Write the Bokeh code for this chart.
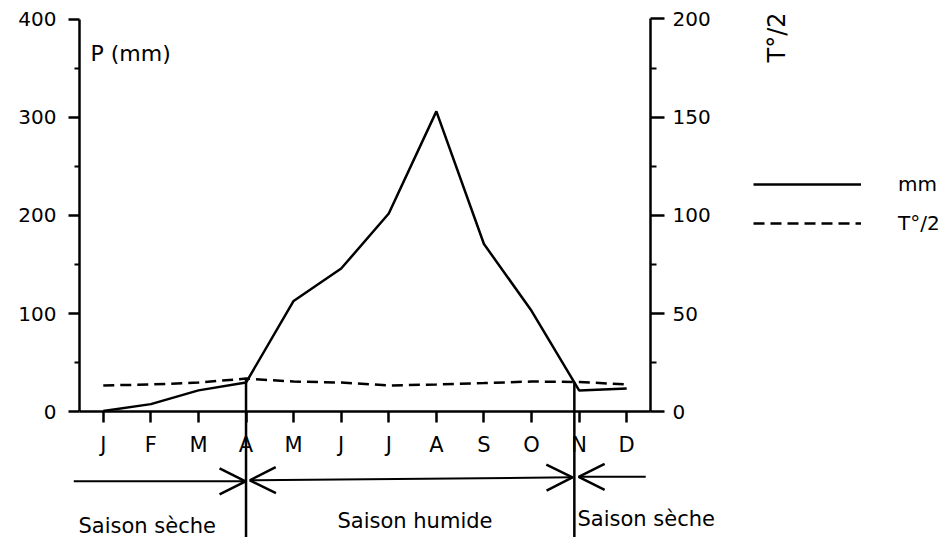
import numpy as np
from bokeh.plotting import figure
from bokeh.models import (Range1d, LinearAxis, FixedTicker, Label, Arrow, OpenHead,
                          Legend, LegendItem)
from bokeh.embed import file_html
from bokeh.resources import INLINE

# ---------------- data ----------------
months = ["J", "F", "M", "A", "M", "J", "J", "A", "S", "O", "N", "D"]
precip_mm = [1, 8, 22, 30, 113, 146, 202, 306, 171, 103, 22, 24]
temp_half = [13.5, 14, 15, 17, 15.5, 15, 13.5, 14, 14.7, 15.5, 15.3, 14]
left_ticks = [0, 100, 200, 300, 400]
left_minor = [50, 150, 250, 350]
right_ticks = [0, 50, 100, 150, 200]
right_minor = [25, 75, 125, 175]
season_bounds = [3.0, 9.9]          # month index where the wet season starts / ends
season_names = ["Saison sèche", "Saison humide", "Saison sèche"]

x = list(range(len(months)))

W, H = 946, 537
FONT = "DejaVu Sans"
LW = 2.5

p = figure(width=W, height=H, output_backend="svg", toolbar_location=None,
           x_range=Range1d(-2.160, 17.721), y_range=Range1d(-127.74, 418.83),
           x_axis_location=None, y_axis_location=None, min_border=0,
           outline_line_color=None, background_fill_color="white",
           border_fill_color="white")
p.extra_y_ranges = {"t": Range1d(-63.87, 209.41)}
p.grid.visible = False


def style(ax, tick_out, minor_out, standoff):
    ax.axis_line_width = LW
    ax.axis_line_color = "black"
    ax.major_tick_line_width = LW
    ax.major_tick_line_color = "black"
    ax.major_tick_in = 0
    ax.major_tick_out = tick_out
    ax.minor_tick_line_width = 2
    ax.minor_tick_line_color = "black"
    ax.minor_tick_in = 0
    ax.minor_tick_out = minor_out
    ax.major_label_text_font = FONT
    ax.major_label_text_font_size = "20px"
    ax.major_label_text_color = "black"
    ax.major_label_standoff = standoff


left = LinearAxis(ticker=FixedTicker(ticks=left_ticks, minor_ticks=left_minor),
                  fixed_location=-0.5, bounds=(0, 400))
style(left, 11, 5, 12)
p.add_layout(left, "left")

right = LinearAxis(y_range_name="t",
                   ticker=FixedTicker(ticks=right_ticks, minor_ticks=right_minor),
                   fixed_location=11.5, bounds=(0, 200))
style(right, 14, 6, 8)
p.add_layout(right, "right")

bottom = LinearAxis(ticker=FixedTicker(ticks=x),
                    major_label_overrides={i: m for i, m in enumerate(months)},
                    fixed_location=0, bounds=(-0.5, 11.5))
style(bottom, 11, 0, 10)
bottom.major_label_text_font_size = "21px"
p.add_layout(bottom, "below")

# ---------------- series ----------------
r1 = p.line(x, precip_mm, line_width=LW, line_color="black")
r2 = p.line(x, temp_half, y_range_name="t", line_width=LW, line_color="black",
            line_dash="11 6")

legend = Legend(items=[LegendItem(label="mm", renderers=[r1]),
                       LegendItem(label="T°/2", renderers=[r2])],
                location=(753, 302), glyph_width=108, glyph_height=20,
                label_standoff=37, spacing=15, padding=0, margin=0,
                border_line_color=None, background_fill_alpha=0,
                label_text_font=FONT, label_text_font_size="20px",
                label_text_color="black")
p.add_layout(legend)

# ---------------- season boundaries ----------------
tops = [2 * float(np.interp(b, x, temp_half)) for b in season_bounds]
p.segment(x0=season_bounds, y0=tops, x1=season_bounds, y1=[-140, -140],
          line_width=LW, line_color="black")

def head():
    return OpenHead(size=26, line_width=LW, line_color="black")

p.add_layout(Arrow(start=None, end=head(), x_start=-0.62, y_start=-70.5,
                   x_end=season_bounds[0] - 0.01, y_end=-70.5,
                   line_width=2, line_color="black"))
p.add_layout(Arrow(start=head(), end=head(), x_start=season_bounds[0] + 0.08,
                   y_start=-69.5, x_end=season_bounds[1] - 0.04, y_end=-66.5,
                   line_width=2, line_color="black"))
p.add_layout(Arrow(start=head(), end=None, x_start=season_bounds[1] + 0.09,
                   y_start=-66, x_end=11.4, y_end=-66,
                   line_width=2, line_color="black"))

# ---------------- texts ----------------
def lab(xs, ys, txt, size="20px", **kw):
    p.add_layout(Label(x=xs, y=ys, x_units="screen", y_units="screen", text=txt,
                       text_font=FONT, text_font_size=size, text_color="black",
                       **kw))

lab(78, 12, season_names[0], "21px", text_baseline="alphabetic")
lab(337, 17, season_names[1], "21px", text_baseline="alphabetic")
lab(577, 19, season_names[2], "21px", text_baseline="alphabetic")
lab(90, 484, "P (mm)", "22px", text_baseline="alphabetic")
lab(776, 500, "T°/2", "24px", angle=np.pi / 2, text_align="center",
    text_baseline="middle")

open("out.html", "w").write(file_html(p, INLINE))
